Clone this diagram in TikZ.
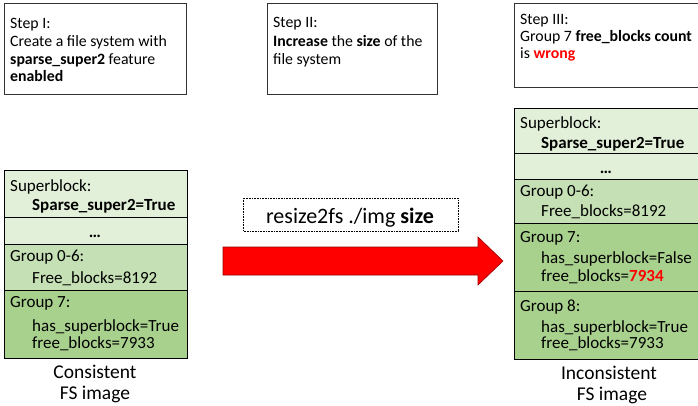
\documentclass[tikz,border=0pt]{standalone}
\usepackage{fontspec}
\setmainfont{Carlito}
\begin{document}
\begin{tikzpicture}[x=1pt,y=-1pt,
  box/.style={draw=black!80,line width=0.8pt},
  sec/.style={draw=black,line width=0.8pt},
  ln/.style={anchor=base west,inner sep=0pt,font=\fontsize{15.8}{18}\selectfont},
  sl/.style={anchor=base west,inner sep=0pt,font=\fontsize{17}{19}\selectfont},
  big/.style={anchor=base,inner sep=0pt,font=\fontsize{19.5}{22}\selectfont}]
\definecolor{gA}{HTML}{E2F0D9}
\definecolor{gB}{HTML}{C5E0B4}
\definecolor{gC}{HTML}{A9D18E}
\definecolor{arrowred}{HTML}{FF0000}
\useasboundingbox (0,0) rectangle (698,405);
\clip (0,0) rectangle (698,405);
% step boxes
\draw[box] (4,3) rectangle (186,94);
\node[ln] (s1a) at (10,28) {Step I:};
\node[ln] (s1b) at (10,46) {Create a file system with};
\node[ln] (s1c) at (10,64) {\textbf{sparse\_super2} feature};
\node[ln] (s1d) at (10,81) {\textbf{enabled}};
\draw[box] (267,3) rectangle (437,94);
\node[ln] (s2a) at (273,27.5) {Step II:};
\node[ln] (s2b) at (273,46) {\textbf{Increase} the \textbf{size} of the};
\node[ln] (s2c) at (273,64) {file system};
\draw[box] (514,3) rectangle (710,87);
\node[ln] (s3a) at (520,24) {Step III:};
\node[ln] (s3b) at (520,41) {Group 7 \textbf{free\_blocks count}};
\node[ln] (s3c) at (520,58) {is \textcolor{arrowred}{\textbf{wrong}}};
% left stack
\fill[gA] (4,170) rectangle (187,244);
\fill[gB] (4,244) rectangle (187,290);
\fill[gC] (4,290) rectangle (187,358);
\draw[sec] (4,170) rectangle (187,358);
\draw[sec] (4,217) -- (187,217);
\draw[sec] (4,244) -- (187,244);
\draw[sec] (4,290) -- (187,290);
\node[sl] (l1) at (10,191) {Superblock:};
\node[sl] (l2) at (32,210) {\textbf{Sparse\_super2=True}};
\node[sl,anchor=base] (l3) at (95,237) {\textbf{…}};
\node[sl] (l4) at (10,261) {Group 0-6:};
\node[sl] (l5) at (32,283) {Free\_blocks=8192};
\node[sl] (l6) at (10,307) {Group 7:};
\node[sl] (l7) at (32,331) {has\_superblock=True};
\node[sl] (l8) at (32,348) {free\_blocks=7933};
\node[big] (c1) at (95,378) {Consistent};
\node[big] (c2) at (95,399) {FS image};
% right stack
\fill[gA] (514,108) rectangle (710,179);
\fill[gB] (514,179) rectangle (710,223);
\fill[gC] (514,223) rectangle (710,359);
\draw[sec] (514,108) rectangle (710,359);
\draw[sec] (514,153) -- (710,153);
\draw[sec] (514,179) -- (710,179);
\draw[sec] (514,223) -- (710,223);
\draw[sec] (514,291) -- (710,291);
\node[sl] (r1) at (520,128) {Superblock:};
\node[sl] (r2) at (541,148) {\textbf{Sparse\_super2=True}};
\node[sl,anchor=base] (r3) at (606,173) {\textbf{…}};
\node[sl] (r4) at (520,196) {Group 0-6:};
\node[sl] (r5) at (541,216) {Free\_blocks=8192};
\node[sl] (r6) at (520,242) {Group 7:};
\node[sl] (r7) at (541,263) {has\_superblock=False};
\node[sl] (r8) at (541,281) {free\_blocks=\textcolor{arrowred}{\textbf{7934}}};
\node[sl] (r9) at (520,311) {Group 8:};
\node[sl] (r10) at (541,332) {has\_superblock=True};
\node[sl] (r11) at (541,348) {free\_blocks=7933};
\node[big] (i1) at (609,379) {Inconsistent};
\node[big] (i2) at (612,400) {FS image};
% command and arrow
\draw[densely dotted,line width=0.6pt] (243,198) rectangle (458,231);
\node[big,font=\fontsize{22}{24}\selectfont] (cmd) at (350,223) {resize2fs ./img \textbf{size}};
\draw[fill=arrowred,draw=red!60!black,line width=0.6pt]
  (223,247) -- (478,247) -- (478,237) -- (503,261) -- (478,285) -- (478,275) -- (223,275) -- cycle;
\end{tikzpicture}
\end{document}
